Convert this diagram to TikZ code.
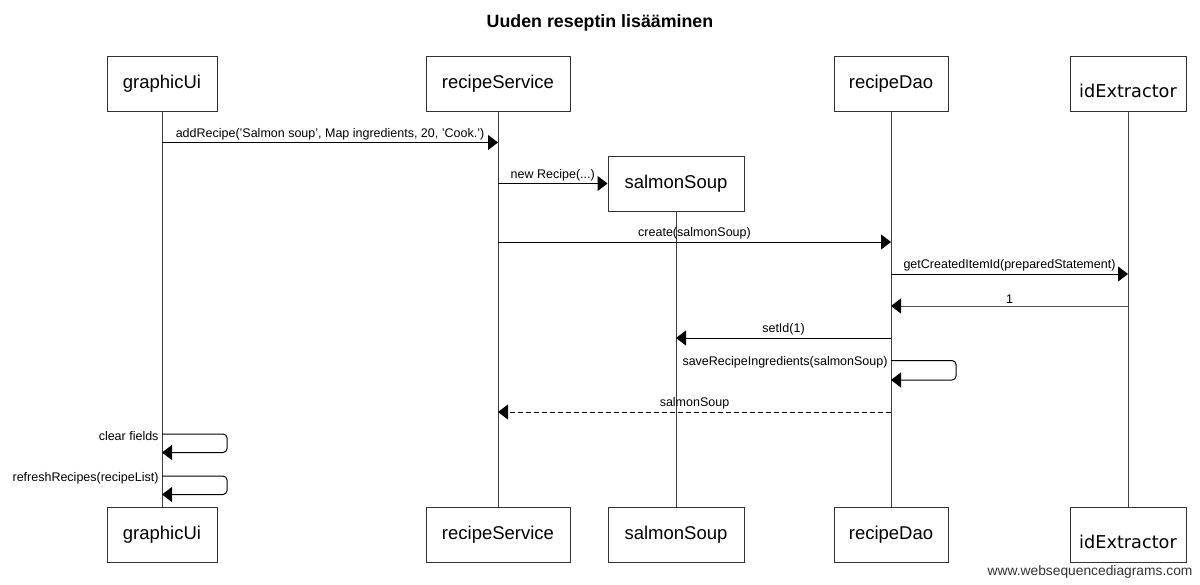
\documentclass[tikz,border=0pt]{standalone}
\usepackage{fontspec}
\setmainfont{Liberation Sans}
\newfontfamily\dejavu{DejaVu Sans}
\usetikzlibrary{arrows.meta,positioning}

\tikzset{
  actor/.style={draw=black!80, line width=1pt, minimum height=55pt, inner sep=0pt,
    font=\fontsize{18.5}{22}\selectfont},
  life/.style={draw=black!75, line width=1pt},
  msg/.style={draw=black, line width=1pt, -{Triangle[length=10pt,width=15pt,color=black]}},
  reply/.style={msg, dash pattern=on 5pt off 3pt},
  lbl/.style={font=\fontsize{12.5}{14}\selectfont, inner sep=2pt, above, midway},
  selflbl/.style={font=\fontsize{12.5}{14}\selectfont, inner sep=3pt, anchor=east, yshift=-2pt},
}
\newcommand{\extname}{\raisebox{-7pt}[\height][\depth]{\dejavu\fontsize{17.7}{20}\selectfont idExtractor}}

\begin{document}
\begin{tikzpicture}[x=1pt,y=-1pt]
    \useasboundingbox (0,0) rectangle (1200,584);
    % Title
    \node[font=\bfseries\fontsize{17.8}{20}\selectfont] (title) at (600,23) {Uuden reseptin lisääminen};
    % Participants
    \node[actor, minimum width=110pt] (gui) at (162,83.5) {graphicUi};
    \node[actor, minimum width=144pt] (svc) at (498,83.5) {recipeService};
    \node[actor, minimum width=114pt] (dao) at (891,83.5) {recipeDao};
    \node[actor, minimum width=116pt] (ext) at (1128,83.5) {\extname};
    \node[actor, minimum width=136pt] (soup) at (676,183.5) {salmonSoup};
    \node[actor, minimum width=110pt] (gui2) at (162,534.5) {graphicUi};
    \node[actor, minimum width=144pt] (svc2) at (498,534.5) {recipeService};
    \node[actor, minimum width=136pt] (soup2) at (676,534.5) {salmonSoup};
    \node[actor, minimum width=114pt] (dao2) at (891,534.5) {recipeDao};
    \node[actor, minimum width=116pt] (ext2) at (1128,534.5) {\extname};
    % Lifelines
    \draw[life] (gui) -- (gui2);
    \draw[life] (svc) -- (svc2);
    \draw[life] (soup) -- (soup2);
    \draw[life] (dao) -- (dao2);
    \draw[life] (ext) -- (ext2);
    % Message rows
    \coordinate (r1) at (0,142.5);
    \coordinate (r3) at (0,242);
    \coordinate (r4) at (0,274);
    \coordinate (r5) at (0,306);
    \coordinate (r6) at (0,338);
    \coordinate (r7) at (0,360.5);
    \coordinate (r8) at (0,412);
    \coordinate (r9) at (0,434);
    \coordinate (r10) at (0,476);
    % Messages
    \draw[msg] (gui |- r1) -- (svc |- r1) node[lbl] {addRecipe('Salmon soup', Map ingredients, 20, 'Cook.')};
    \draw[msg] (svc |- soup) -- (soup.west) node[lbl] {new Recipe(...)};
    \draw[msg] (svc |- r3) -- (dao |- r3) node[lbl] {create(salmonSoup)};
    \draw[msg] (dao |- r4) -- (ext |- r4) node[lbl] {getCreatedItemId(preparedStatement)};
    \draw[msg, draw=black!70] (ext |- r5) -- (dao |- r5) node[lbl, text=black] {1};
    \draw[msg] (dao |- r6) -- (soup |- r6) node[lbl] {setId(1)};
    \draw[msg, rounded corners=4pt] (dao |- r7) node[selflbl] {saveRecipeIngredients(salmonSoup)}
        -- ++(65,0) -- ++(0,19.5) -- ++(-65,0);
    \draw[reply] (dao |- r8) -- (svc |- r8) node[lbl] {salmonSoup};
    \draw[msg, rounded corners=4pt] (gui |- r9) node[selflbl] {clear fields}
        -- ++(65,0) -- ++(0,18.5) -- ++(-65,0);
    \draw[msg, rounded corners=4pt] (gui |- r10) node[selflbl] {refreshRecipes(recipeList)}
        -- ++(65,0) -- ++(0,18.5) -- ++(-65,0);
    % Footer
    \node[anchor=east, text=black!80, font=\fontsize{13.8}{16}\selectfont] (wsd) at (1196,572) {www.websequencediagrams.com};
\end{tikzpicture}
\end{document}
